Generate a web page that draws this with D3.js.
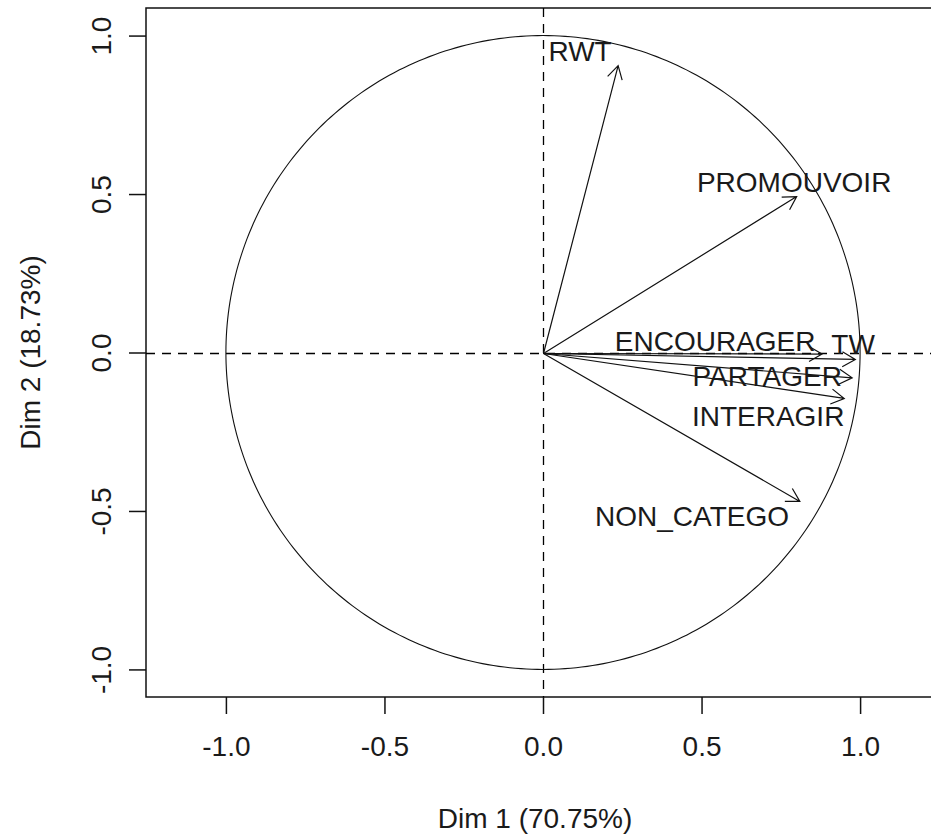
<!DOCTYPE html>
<html lang="fr">
<head>
<meta charset="UTF-8">
<title>Variables factor map (PCA)</title>
<script src="https://d3js.org/d3.v7.min.js"></script>
<style>
  body { margin: 0; background: #fff; }
  text { font-family: "Liberation Sans", Arial, sans-serif; fill: #1a1a1a; }
</style>
</head>
<body>
<script>
// variables and their coordinates on Dim 1 / Dim 2
const variables = ["RWT", "PROMOUVOIR", "ENCOURAGER", "TW", "PARTAGER", "INTERAGIR", "NON_CATEGO"];
const dim1 = [0.237, 0.800, 0.880, 0.985, 0.975, 0.950, 0.810];
const dim2 = [0.905, 0.492, -0.005, -0.022, -0.080, -0.145, -0.470];
// where the labels ended up (centre of text, in data units)
const labelX = [0.117, 0.792, 0.543, 0.978, 0.707, 0.710, 0.470];
const labelY = [0.950, 0.536, 0.035, 0.025, -0.076, -0.202, -0.517];

const xTicks = [-1.0, -0.5, 0.0, 0.5, 1.0];
const yTicks = [-1.0, -0.5, 0.0, 0.5, 1.0];
const xTitle = "Dim 1 (70.75%)";
const yTitle = "Dim 2 (18.73%)";

const width = 931, height = 838;
const fs = 28;

const svg = d3.select("body").append("svg")
    .attr("width", width)
    .attr("height", height);

// plot box: left 146, top 8, bottom 697, right runs off the page
const x = d3.scaleLinear().domain([-1.252, 1.252]).range([146, 940]);
const y = d3.scaleLinear().domain([-1.087, 1.087]).range([697, 8]);

// R prints a plain hyphen, not the unicode minus
const fmt = d => d3.format(".1f")(d).replace("\u2212", "-");

// x axis
const xAxis = svg.append("g")
    .attr("transform", `translate(0,${y(-1.087)})`)
    .call(d3.axisBottom(x).tickValues(xTicks).tickFormat(fmt).tickSize(17).tickPadding(22));
xAxis.select(".domain").remove();
xAxis.selectAll("line").attr("stroke", "#111").attr("stroke-width", 1.5);
xAxis.selectAll("text").style("font-size", fs + "px").attr("fill", "#1a1a1a");

// y axis, labels rotated like R
const yAxis = svg.append("g")
    .attr("transform", `translate(${x(-1.252)},0)`)
    .call(d3.axisLeft(y).tickValues(yTicks).tickFormat(fmt).tickSize(17));
yAxis.select(".domain").remove();
yAxis.selectAll("line").attr("stroke", "#111").attr("stroke-width", 1.5);
yAxis.selectAll("text")
    .attr("x", null).attr("dy", null)
    .attr("text-anchor", "middle")
    .attr("dominant-baseline", "central")
    .attr("transform", "translate(-45,0) rotate(-90)")
    .style("font-size", fs + "px").attr("fill", "#1a1a1a");

// axis titles
svg.append("text")
    .attr("x", x(0) - 8).attr("y", 818)
    .attr("text-anchor", "middle").attr("dominant-baseline", "central")
    .style("font-size", fs + "px")
    .text(xTitle);
svg.append("text")
    .attr("transform", `translate(30,${y(0)}) rotate(-90)`)
    .attr("text-anchor", "middle").attr("dominant-baseline", "central")
    .style("font-size", fs + "px")
    .text(yTitle);

// box
svg.append("rect")
    .attr("x", x(-1.252)).attr("y", y(1.087))
    .attr("width", x(1.252) - x(-1.252))
    .attr("height", y(-1.087) - y(1.087))
    .attr("fill", "none").attr("stroke", "#111").attr("stroke-width", 1.5);

// dashed axes through origin (snapped to whole pixels so they stay dark)
const ox = Math.round(x(0)) + 0.5, oy = Math.round(y(0)) + 0.5;
svg.append("line")
    .attr("x1", x(-1.252)).attr("x2", x(1.252))
    .attr("y1", oy).attr("y2", oy)
    .attr("stroke", "#000").attr("stroke-width", 1.3).attr("stroke-dasharray", "9,7");
svg.append("line")
    .attr("x1", ox).attr("x2", ox)
    .attr("y1", y(1.087)).attr("y2", y(-1.087))
    .attr("stroke", "#000").attr("stroke-width", 1.3).attr("stroke-dasharray", "9,7");

// correlation circle
const circle = d3.range(0, 361).map(a => [Math.cos(a * Math.PI / 180), Math.sin(a * Math.PI / 180)]);
svg.append("path")
    .attr("d", d3.line().x(d => x(d[0])).y(d => y(d[1]))(circle))
    .attr("fill", "none").attr("stroke", "#111").attr("stroke-width", 1.1);

// arrows
const head = 15, ang = Math.PI / 6;
const arrows = svg.append("g").attr("stroke", "#111").attr("stroke-width", 1.2).attr("fill", "none");
variables.forEach((v, i) => {
    const x0 = ox, y0 = oy, x1 = x(dim1[i]), y1 = y(dim2[i]);
    const t = Math.atan2(y1 - y0, x1 - x0);
    arrows.append("path").attr("d",
        `M${x0},${y0}L${x1},${y1}` +
        `M${x1 - head * Math.cos(t - ang)},${y1 - head * Math.sin(t - ang)}L${x1},${y1}` +
        `L${x1 - head * Math.cos(t + ang)},${y1 - head * Math.sin(t + ang)}`);
});

// labels
svg.append("g").selectAll("text")
    .data(variables)
    .enter().append("text")
    .attr("x", (d, i) => x(labelX[i]))
    .attr("y", (d, i) => y(labelY[i]))
    .attr("text-anchor", "middle")
    .attr("dominant-baseline", "central")
    .style("font-size", fs + "px")
    .text(d => d);
</script>
</body>
</html>
